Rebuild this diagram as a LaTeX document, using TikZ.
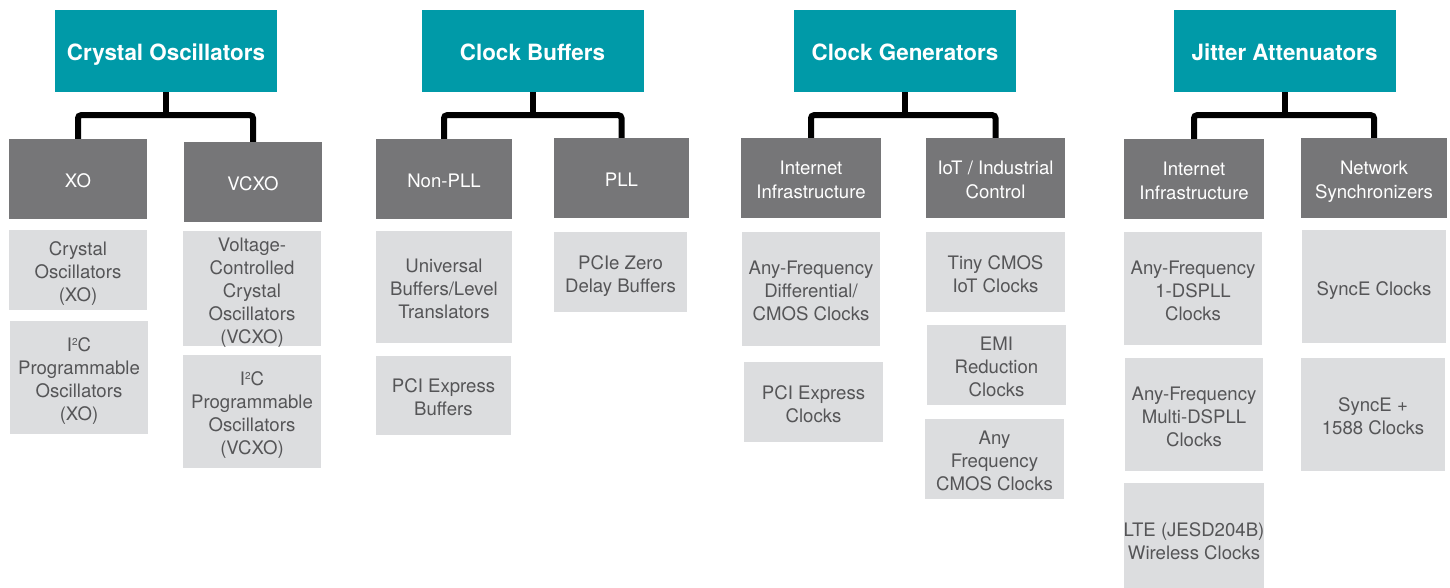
\documentclass[tikz,border=0pt]{standalone}
\usepackage{fontspec}
\setmainfont{TeX Gyre Heros}
\definecolor{siteal}{HTML}{009AA8}
\definecolor{sidark}{HTML}{767678}
\definecolor{silight}{HTML}{DCDDDF}
\definecolor{sitext}{HTML}{555557}
% stacked lines, set a little below the middle of the box
\newcommand{\boxlines}[1]{\raisebox{-4pt}[\height][\depth]{\begin{tabular}{@{}c@{}}#1\end{tabular}}}
\newcommand{\itwoc}{I\raisebox{6pt}{\fontsize{10}{10}\selectfont 2}C}
\tikzset{
  family/.style={fill=siteal, text=white, font=\bfseries\fontsize{22.4}{27}\selectfont,
    minimum width=222pt, minimum height=82pt, inner sep=0pt, text height=20pt, text depth=0pt},
  branch/.style={fill=sidark, text=white, font=\fontsize{18.6}{23.5}\selectfont,
    minimum height=80pt, inner sep=0pt},
  part/.style={fill=silight, text=sitext, font=\fontsize{18.6}{23}\selectfont,
    inner sep=0pt},
  link/.style={line width=6pt, rounded corners=3pt},
}
\begin{document}
\begin{tikzpicture}[x=1pt,y=-1pt]
        \clip (0,0) rectangle (1450,588);
        \fill[white] (0,0) rectangle (1450,588);

        % Families
        \node[family] (crys) at (166,51)    {Crystal Oscillators};
        \node[family] (buf)  at (532.5,51)  {Clock Buffers};
        \node[family] (gen)  at (905,51)    {Clock Generators};
        \node[family] (jit)  at (1284.5,51) {Jitter Attenuators};

        % Branches
        \node[branch, minimum width=138pt] (xo)      at (78,179)     {\boxlines{XO}};
        \node[branch, minimum width=138pt] (vcxo)    at (253,182)    {\boxlines{VCXO}};
        \node[branch, minimum width=136pt] (nonpll)  at (444,179)    {\boxlines{Non-PLL}};
        \node[branch, minimum width=135pt] (pll)     at (621.5,178)  {\boxlines{PLL}};
        \node[branch, minimum width=140pt] (geninet) at (811,178)    {\boxlines{Internet\\Infrastructure}};
        \node[branch, minimum width=139pt] (iot)     at (995.5,178)  {\boxlines{IoT / Industrial\\Control}};
        \node[branch, minimum width=140pt] (jitinet) at (1194,179)   {\boxlines{Internet\\Infrastructure}};
        \node[branch, minimum width=146pt] (netsync) at (1374,178)   {\boxlines{Network\\Synchronizers}};

        % Connectors
        \foreach \fam/\left/\right in {crys/xo/vcxo, buf/nonpll/pll, gen/geninet/iot, jit/jitinet/netsync}{
            \path (\fam.south) ++(0,23) coordinate (\fam j);
            \draw[link] (\fam.south) -- (\fam j);
            \draw[link] (\left.north) |- (\fam j) -| (\right.north);
        }

        % Products
        \node[part, minimum width=138pt, minimum height=80pt]  (xo1) at (78,270)    {\boxlines{Crystal\\Oscillators\\(XO)}};
        \node[part, minimum width=138pt, minimum height=113pt] (xo2) at (79,377.5)  {\boxlines{\itwoc\\Programmable\\Oscillators\\(XO)}};
        \node[part, minimum width=138pt, minimum height=113pt] (vc1) at (252,288.5) {\boxlines{Voltage-\\Controlled\\Crystal\\Oscillators\\(VCXO)}};
        \node[part, minimum width=138pt, minimum height=113pt] (vc2) at (252,411.5) {\boxlines{\itwoc\\Programmable\\Oscillators\\(VCXO)}};

        \node[part, minimum width=136pt, minimum height=112pt] (np1) at (444,287)     {\boxlines{Universal\\Buffers/Level\\Translators}};
        \node[part, minimum width=135pt, minimum height=79pt]  (np2) at (443.5,395.5) {\boxlines{PCI Express\\Buffers}};
        \node[part, minimum width=133pt, minimum height=80pt]  (pl1) at (620.5,272)   {\boxlines{PCIe Zero\\Delay Buffers}};

        \node[part, minimum width=138pt, minimum height=114pt] (gi1) at (811,289)    {\boxlines{Any-Frequency\\Differential/\\CMOS Clocks}};
        \node[part, minimum width=139pt, minimum height=80pt]  (gi2) at (813.5,402)  {\boxlines{PCI Express\\Clocks}};
        \node[part, minimum width=139pt, minimum height=80pt]  (io1) at (995.5,272)  {\boxlines{Tiny CMOS\\IoT Clocks}};
        \node[part, minimum width=139pt, minimum height=80pt]  (io2) at (996.5,365)  {\boxlines{EMI\\Reduction\\Clocks}};
        \node[part, minimum width=139pt, minimum height=80pt]  (io3) at (994.5,459)  {\boxlines{Any\\Frequency\\CMOS Clocks}};

        \node[part, minimum width=138pt, minimum height=113pt] (ji1) at (1193,288.5) {\boxlines{Any-Frequency\\1-DSPLL\\Clocks}};
        \node[part, minimum width=138pt, minimum height=113pt] (ji2) at (1194,414.5) {\boxlines{Any-Frequency\\Multi-DSPLL\\Clocks}};
        \node[part, minimum width=138pt, minimum height=113pt] (ji3) at (1194,539.5) {\boxlines{LTE (JESD204B)\\Wireless Clocks}};
        \node[part, minimum width=144pt, minimum height=113pt] (ns1) at (1374,286.5) {\boxlines{SyncE Clocks}};
        \node[part, minimum width=144pt, minimum height=113pt] (ns2) at (1373,414.5) {\boxlines{SyncE +\\1588 Clocks}};

\end{tikzpicture}
\end{document}
